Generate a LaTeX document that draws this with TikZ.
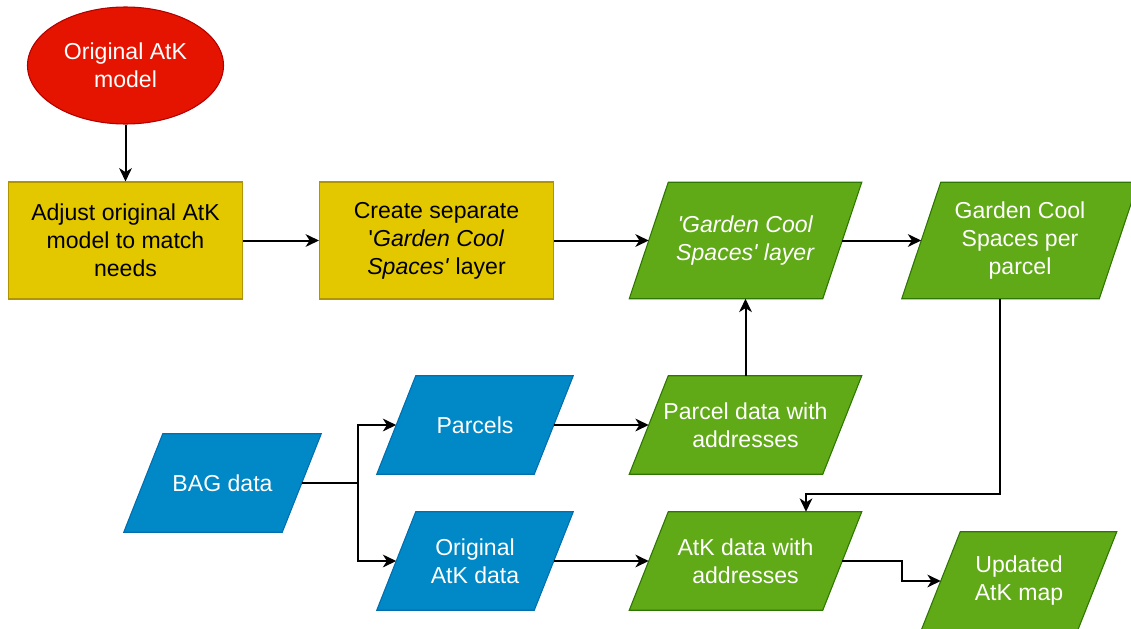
\documentclass[tikz,border=0pt]{standalone}
\usepackage{fontspec}
\setmainfont{Liberation Sans}
\usetikzlibrary{arrows.meta,calc,backgrounds,shapes.geometric}
\definecolor{redfill}{RGB}{229,20,0}
\definecolor{redline}{RGB}{178,0,0}
\definecolor{yelfill}{RGB}{227,200,0}
\definecolor{yelline}{RGB}{176,149,0}
\definecolor{grnfill}{RGB}{96,169,23}
\definecolor{grnline}{RGB}{45,118,0}
\definecolor{blufill}{RGB}{0,136,199}
\definecolor{bluline}{RGB}{0,110,175}
\newcommand{\q}{\textquotesingle}
\begin{document}
\begin{tikzpicture}[x=0.75pt,y=-0.75pt,
  every node/.style={font=\fontsize{17.3}{21}\selectfont, align=center, inner sep=0pt},
  startnode/.style={ellipse, draw=redline, fill=redfill, text=white, line width=0.8pt,
    minimum width=147pt, minimum height=87.75pt},
  procbox/.style={rectangle, draw=yelline, fill=yelfill, text=black, line width=0.8pt,
    minimum width=175.5pt, minimum height=87.75pt},
  databox/.style={rectangle, text=white, minimum height=73.5pt},
  grnpoly/.style={draw=grnline, fill=grnfill, line width=0.8pt, line join=miter},
  blupoly/.style={draw=bluline, fill=blufill, line width=0.8pt, line join=miter},
  arr/.style={-{Stealth[length=10pt,width=9.5pt,inset=3pt]}, line width=1.5pt, black}
]
\useasboundingbox (0,0) rectangle (1131,628);

% nodes
\node[startnode] (ell) at (125.5,65.5) {Original AtK\\model};
\node[procbox] (b1) at (125.5,240.5) {Adjust original AtK\\model to match\\needs};
\node[procbox] (b2) at (436.5,240.5) {Create separate\\\q\textit{Garden Cool}\\\textit{Spaces\q} layer};
\node[databox, minimum width=144.75pt, minimum height=87pt] (g1) at (745.5,240.5) {\textit{\q Garden Cool}\\\textit{Spaces\q\ layer}};
\node[databox, minimum width=147.75pt, minimum height=87pt] (g2) at (1020,240.5) {Garden Cool\\Spaces per\\parcel};
\node[databox, minimum width=118.5pt] (bag) at (222.5,483) {BAG data};
\node[databox, minimum width=117.75pt] (par) at (475,425) {Parcels};
\node[databox, minimum width=117.75pt] (oatk) at (475,561) {Original\\AtK data};
\node[databox, minimum width=144.75pt] (pd) at (745.5,425) {Parcel data with\\addresses};
\node[databox, minimum width=144.75pt] (ad) at (745.5,561) {AtK data with\\addresses};
\node[databox, minimum width=117pt] (up) at (1019,581) {Updated\\AtK map};

% parallelogram outlines
\begin{pgfonlayer}{background}
\foreach \n/\s in {g1/grnpoly, g2/grnpoly, pd/grnpoly, ad/grnpoly,
                   bag/blupoly, par/blupoly, oatk/blupoly}{
  \draw[\s] ($(\n.north west)+(19.5,0)$) -- ($(\n.north east)+(19.5,0)$)
        -- ($(\n.south east)+(-19.5,0)$) -- ($(\n.south west)+(-19.5,0)$) -- cycle;
}
\draw[grnpoly] ($(up.north west)+(19.5,0)$) -- ($(up.north east)+(19.5,0)$)
        -- ($(up.south east)+(-23.5,10)$) -- ($(up.south west)+(-23.5,10)$) -- cycle;
\end{pgfonlayer}

% connectors
\draw[arr] (ell.south) -- (b1.north);
\draw[arr] (b1.east) -- (b2.west);
\draw[arr] (b2.east) -- (g1.west);
\draw[arr] (g1.east) -- (g2.west);
\draw[arr] (par.east) -- (pd.west);
\draw[arr] (pd.north) -- (g1.south);
\coordinate (split) at (358,483);
\draw[line width=1.5pt] (bag.east) -- (split);
\draw[arr] (split) |- (par.west);
\draw[arr] (split) |- (oatk.west);
\draw[arr] (oatk.east) -- (ad.west);
\coordinate (g2out) at ($(g2.south)+(-20,0)$);
\coordinate (adin) at ($(ad.north)+(60.5,0)$);
\draw[arr] (g2out) -- ++(0,195) -| (adin);
\draw[arr] (ad.east) -- ++(60,0) |- (up.west);
\end{tikzpicture}
\end{document}
